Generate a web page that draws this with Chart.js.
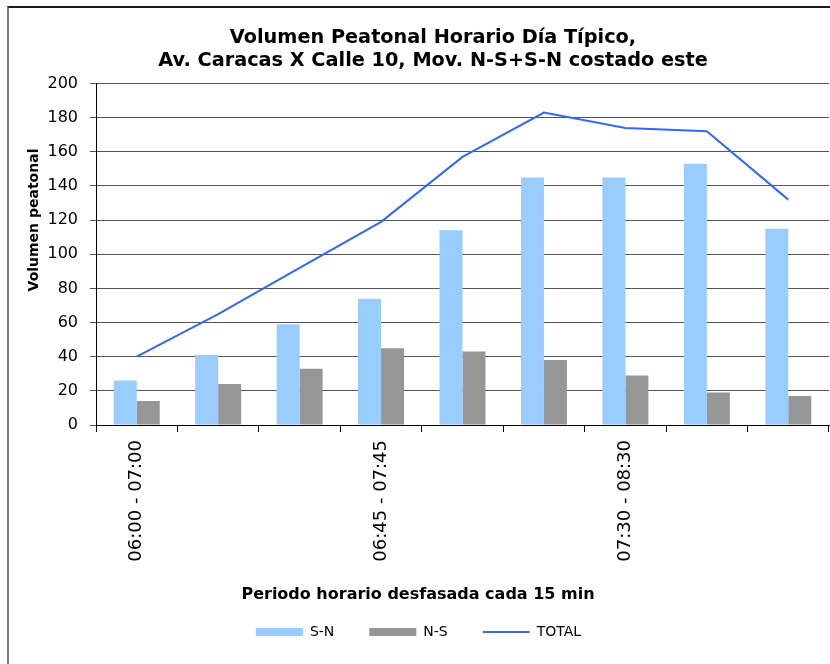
<!DOCTYPE html>
<html><head><meta charset="utf-8">
<script src="https://cdn.jsdelivr.net/npm/chart.js@4.4.1/dist/chart.umd.min.js"></script>
<style>
html,body{margin:0;padding:0;background:#fff;overflow:hidden;}
#wrap{position:relative;width:830px;height:664px;background:#fff;}
#frame{position:absolute;left:7px;top:6px;width:900px;height:900px;border-top:2px solid #1a1a1a;border-left:2px solid #808080;pointer-events:none;}
canvas{position:absolute;left:0;top:0;}
</style></head><body>
<div id="wrap"><canvas id="c" width="830" height="664"></canvas><div id="frame"></div></div>
<script>
const categories = ['06:00 - 07:00','06:15 - 07:15','06:30 - 07:30','06:45 - 07:45','07:00 - 08:00','07:15 - 08:15','07:30 - 08:30','07:45 - 08:45','08:00 - 09:00'];
const snValues = [26, 41, 59, 74, 114, 145, 145, 153, 115];
const nsValues = [14, 24, 33, 45, 43, 38, 29, 19, 17];
const totalValues = [40, 65, 92, 119, 157, 183, 174, 172, 132];
const seriesNames = ['S-N', 'N-S', 'TOTAL'];
const yMin = 0, yMax = 200, yStep = 20;
const labelEvery = 3;
const chartTitle = ['Volumen Peatonal Horario Día Típico,', 'Av. Caracas X Calle 10, Mov. N-S+S-N costado este'];
const xTitle = 'Periodo horario desfasada cada 15 min';
const yTitle = 'Volumen peatonal';

const FONT = '"DejaVu Sans", sans-serif';

const axisTitles = {
  id: 'axisTitles',
  afterLayout(chart, args, opts) {
    const t = chart.titleBlock;
    if (t) { t.left = 2 * opts.titleCenter - t.right; }
  },
  afterDraw(chart, args, opts) {
    const ctx = chart.ctx;
    ctx.save();
    ctx.fillStyle = '#000';
    ctx.textAlign = 'center';
    ctx.textBaseline = 'middle';
    ctx.font = 'bold 16px ' + FONT;
    ctx.fillText(opts.x.text, opts.x.cx, opts.x.cy);
    ctx.translate(opts.y.cx, opts.y.cy);
    ctx.rotate(-Math.PI / 2);
    ctx.font = 'bold 14px ' + FONT;
    ctx.fillText(opts.y.text, 0, 0);
    ctx.restore();
  }
};

new Chart(document.getElementById('c'), {
  type: 'bar',
  data: {
    labels: categories,
    datasets: [
      { type: 'bar', label: seriesNames[0], data: snValues, backgroundColor: '#99CCFF', borderWidth: 0, categoryPercentage: 0.565, barPercentage: 1 },
      { type: 'bar', label: seriesNames[1], data: nsValues, backgroundColor: '#969696', borderWidth: 0, categoryPercentage: 0.565, barPercentage: 1 },
      { type: 'line', label: seriesNames[2], data: totalValues, borderColor: '#3366FF', backgroundColor: '#3366FF', borderWidth: 2, pointRadius: 0, tension: 0, fill: false }
    ]
  },
  options: {
    responsive: false,
    animation: false,
    devicePixelRatio: 1,
    layout: { padding: { left: 8, right: 1, top: 0, bottom: 15 } },
    plugins: {
      tooltip: { enabled: false },
      title: {
        display: true, text: chartTitle, color: '#000',
        font: { family: FONT, size: 19.3, weight: 'bold', lineHeight: '23px' },
        padding: { top: 26, bottom: 11.5 }
      },
      legend: {
        display: true, position: 'bottom',
        labels: {
          color: '#000', font: { family: FONT, size: 14 },
          usePointStyle: true, pointStyleWidth: 47, boxHeight: 8, padding: 35,
          generateLabels(chart) {
            const items = Chart.defaults.plugins.legend.labels.generateLabels(chart);
            items.forEach((it, i) => { it.pointStyle = (i === 2) ? 'line' : 'rect'; });
            return items;
          }
        }
      },
      axisTitles: {
        titleCenter: 433,
        x: { text: xTitle, cx: 418, cy: 594.5 },
        y: { text: yTitle, cx: 34, cy: 220 }
      }
    },
    scales: {
      x: {
        offset: true,
        grid: { offset: true, drawOnChartArea: false, drawTicks: true, tickLength: 7, color: '#000' },
        border: { display: true, color: '#000', width: 1 },
        ticks: {
          autoSkip: false, maxRotation: 90, minRotation: 90, padding: 8, color: '#000',
          font: { family: FONT, size: 18 },
          callback(value, index) { return index % labelEvery === 0 ? categories[index] : ''; }
        },
        afterFit(scale) { scale.height = 165; }
      },
      y: {
        min: yMin, max: yMax,
        grid: { color: '#555', lineWidth: 1, tickLength: 6 },
        border: { display: true, color: '#000', width: 1 },
        ticks: { stepSize: yStep, padding: 12, color: '#000', font: { family: FONT, size: 16 } },
        afterFit(scale) { scale.width = 88; }
      }
    }
  },
  plugins: [axisTitles]
});
</script>
</body></html>
